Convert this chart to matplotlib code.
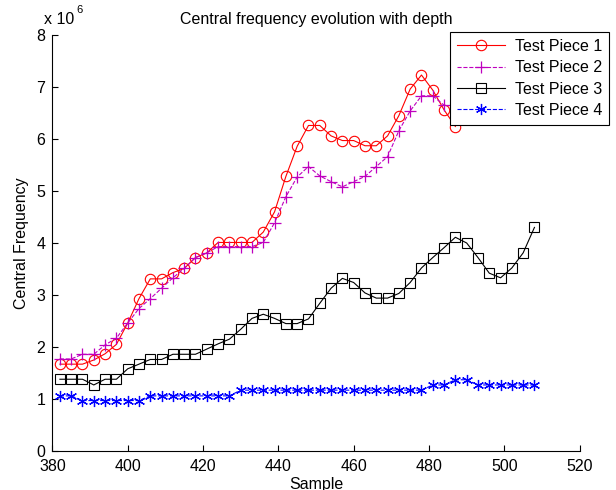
import numpy as np
import matplotlib
matplotlib.use("Agg")
import matplotlib.pyplot as plt

plt.rcParams['font.family'] = ['Liberation Sans', 'DejaVu Sans']

# sample positions (every 3 samples)
samples = np.arange(382, 509, 3)

# central frequency, in units of 1e6
piece1 = [1.67, 1.67, 1.67, 1.75, 1.87, 2.05, 2.46, 2.93, 3.31, 3.31,
          3.43, 3.51, 3.72, 3.81, 4.01, 4.01, 4.01, 4.01, 4.21, 4.60,
          5.28, 5.86, 6.26, 6.26, 6.06, 5.97, 5.97, 5.87, 5.87, 6.06,
          6.45, 6.96, 7.23, 6.94, 6.56, 6.24]
piece2 = [1.77, 1.77, 1.86, 1.86, 2.04, 2.17, 2.46, 2.74, 2.93, 3.13,
          3.33, 3.51, 3.72, 3.81, 3.93, 3.93, 3.93, 3.93, 4.01, 4.39,
          4.89, 5.27, 5.47, 5.29, 5.18, 5.08, 5.18, 5.28, 5.47, 5.66,
          6.16, 6.54, 6.83, 6.83, 6.65]
piece3 = [1.38, 1.38, 1.38, 1.27, 1.38, 1.38, 1.58, 1.67, 1.76, 1.76,
          1.86, 1.86, 1.86, 1.96, 2.06, 2.15, 2.34, 2.55, 2.63, 2.55,
          2.45, 2.45, 2.54, 2.84, 3.13, 3.32, 3.24, 3.04, 2.94, 2.94,
          3.03, 3.24, 3.52, 3.72, 3.91, 4.11, 4.00, 3.72, 3.42, 3.33,
          3.52, 3.81, 4.30]
piece4 = [1.06, 1.06, 0.97, 0.97, 0.97, 0.97, 0.97, 0.97, 1.06, 1.06,
          1.06, 1.06, 1.06, 1.06, 1.06, 1.06, 1.17, 1.17, 1.17, 1.17,
          1.17, 1.17, 1.17, 1.17, 1.17, 1.17, 1.17, 1.17, 1.17, 1.17,
          1.17, 1.17, 1.17, 1.27, 1.27, 1.37, 1.37, 1.27, 1.27, 1.27,
          1.27, 1.27, 1.27]

fs = 11.5
fig = plt.figure(figsize=(6.16, 4.9), dpi=100)
ax = fig.add_axes([0.085, 0.0796, 0.856, 0.849])

asterisk = (6, 2, 0)
ax.plot(samples[:len(piece1)], piece1, '-', color='r', marker='o', ms=7.5,
        mfc='none', mew=0.8, lw=0.8, label='Test Piece 1')
ax.plot(samples[:len(piece2)], piece2, '--', color='m', marker='+', ms=9,
        mew=0.9, lw=0.8, label='Test Piece 2')
ax.plot(samples[:len(piece3)], piece3, '-', color='k', marker='s', ms=7,
        mfc='none', mew=0.8, lw=0.8, label='Test Piece 3')
ax.plot(samples[:len(piece4)], piece4, '--', color='b', marker=asterisk, ms=8,
        mew=0.9, lw=0.8, label='Test Piece 4')

ax.set_xlim(380, 520)
ax.set_ylim(0, 8)
ax.set_xticks(np.arange(380, 521, 20))
ax.set_yticks(np.arange(0, 9, 1))
ax.tick_params(direction='in', length=4, width=0.8, labelsize=fs,
               top=False, right=False)
ax.tick_params(axis='x', pad=6)
ax.tick_params(axis='y', pad=5)
ax.spines['top'].set_visible(False)
ax.spines['right'].set_visible(False)
for s in ('left', 'bottom'):
    ax.spines[s].set_linewidth(0.8)

ax.set_title('Central frequency evolution with depth', fontsize=fs, pad=8)
ax.set_xlabel('Sample', fontsize=fs, labelpad=2)
ax.set_ylabel('Central Frequency', fontsize=fs, labelpad=5)
ax.text(-0.015, 1.018, 'x 10', transform=ax.transAxes, fontsize=fs,
        ha='left', va='bottom')
ax.text(0.046, 1.048, '6', transform=ax.transAxes, fontsize=8,
        ha='left', va='bottom')

leg = ax.legend(loc='upper right', bbox_to_anchor=(1.056, 1.008),
                fontsize=fs, frameon=True, fancybox=False, borderaxespad=0,
                handlelength=3.0, handletextpad=0.6, labelspacing=0.4,
                borderpad=0.45)
leg.get_frame().set_edgecolor('k')
leg.get_frame().set_linewidth(0.8)
leg.get_frame().set_alpha(1)

fig.savefig('out.png', dpi=100)
